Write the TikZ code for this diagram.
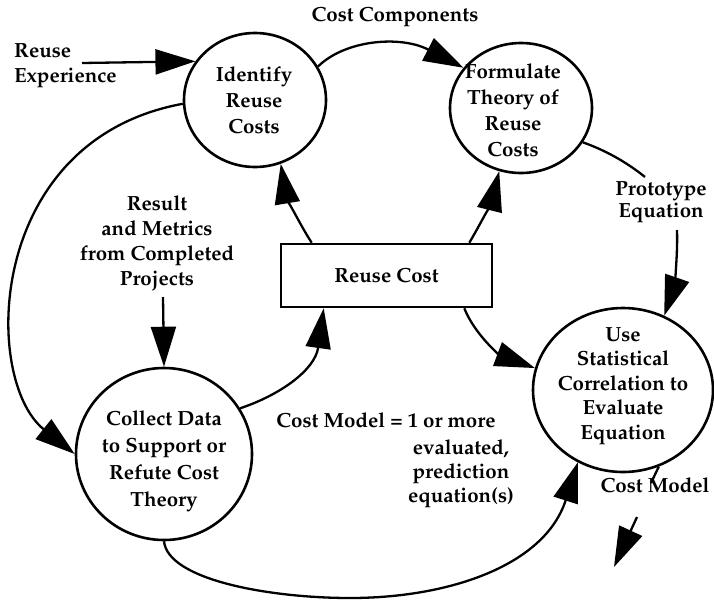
\documentclass[tikz,border=0pt]{standalone}
\usepackage[T1]{fontenc}
\renewcommand{\rmdefault}{ppl}
\usetikzlibrary{arrows.meta,shapes.geometric,calc}
\begin{document}
\begin{tikzpicture}[x=1pt,y=-1pt,
  proc/.style={draw, ellipse, line width=2.6pt, inner sep=0pt},
  lbl/.style={font=\fontsize{20.5}{26}\selectfont\bfseries, align=center, inner sep=0pt},
  conn/.style={line width=2.3pt},
  arr/.style={conn, -{Triangle[length=40pt,width=25pt]}}]
\useasboundingbox (0,0) rectangle (714,600);

% process circles
\node[proc, minimum width=142pt, minimum height=134pt] (ident) at (255,100) {};
\node[proc, minimum width=142pt, minimum height=130pt] (form) at (521,108) {};
\node[proc, minimum width=180pt, minimum height=164pt] (use) at (623,390) {};
\node[proc, minimum width=176pt, minimum height=172pt] (coll) at (164,454) {};
\node[draw, line width=2.6pt, minimum width=211pt, minimum height=63pt, inner sep=0pt,
      font=\fontsize{20.5}{26}\selectfont\bfseries] (box) at (386.5,275.5) {Reuse Cost};

% texts inside circles
\node[lbl] (identT) at (254,100) {Identify\\Reuse\\Costs};
\node[lbl] (formT) at (513,110) {Formulate\\Theory of\\Reuse\\Costs};
\node[lbl, font=\fontsize{20.5}{24.5}\selectfont\bfseries] (useT) at (623,386) {Use\\Statistical\\Correlation to\\Evaluate\\Equation};
\node[lbl, font=\fontsize{20.5}{27}\selectfont\bfseries] (collT) at (164,461) {Collect Data\\to Support or\\Refute Cost\\Theory};

% free labels
\node[lbl, align=left, anchor=west, font=\fontsize{20.5}{25}\selectfont\bfseries] (reuseexp) at (14,66) {Reuse\\Experience};
\node[lbl] (costcomp) at (395,17) {Cost Components};
\node[lbl, font=\fontsize{20.5}{22}\selectfont\bfseries] (proto) at (661,202) {Prototype\\Equation};
\node[lbl, font=\fontsize{20.5}{25}\selectfont\bfseries] (result) at (157,243) {Result\\and Metrics\\from Completed\\Projects};
\node[lbl] (costmodel) at (655,485) {Cost Model};
\node[lbl] (cm1) at (386,420) {Cost Model = 1 or more};
\node[lbl, font=\fontsize{20.5}{24}\selectfont\bfseries] (cm2) at (461,474) {evaluated,\\prediction\\equation(s)};

% free ends
\coordinate (reA) at (82,63);
\coordinate (pjA) at (163,297);
\coordinate (peA) at (645,177);
\coordinate (peB) at (677,230);
\coordinate (cmS) at (651,483);
\coordinate (cmA) at (637,517);
\coordinate (cmB) at (614,567);

% connectors
\draw[arr] (reA) -- (ident.147);
\draw[arr] (ident.183) .. controls (-15,140) and (-18,380) .. (coll.180);
\draw[arr] (ident.28) .. controls (345,40) and (400,35) .. (form.145);
\draw[arr] ($(box.north west)+(32,0)$) .. controls (300,225) and (286,195) .. (ident.292);
\draw[arr] ($(box.north east)+(-24,0)$) .. controls (480,225) and (492,200) .. (form.251);
\draw[conn] (form.331) .. controls (610,152) and (630,165) .. (peA);
\draw[arr] (peB) .. controls (678,260) and (673,290) .. (use.61);
\draw[arr] ($(box.south east)+(-29,0)$) .. controls (475,335) and (500,355) .. (use.166);
\draw[arr] (coll.31) .. controls (280,395) and (315,370) .. ($(box.south west)+(44,0)$);
\draw[arr] (coll.270) .. controls (168,580) and (270,598) .. (350,598)
                      .. controls (450,598) and (545,565) .. (use.238);
\draw[arr] (pjA) -- (coll.90);
\draw[conn] (use.295) -- (cmS);
\draw[arr] (cmA) -- (cmB);
\end{tikzpicture}
\end{document}
